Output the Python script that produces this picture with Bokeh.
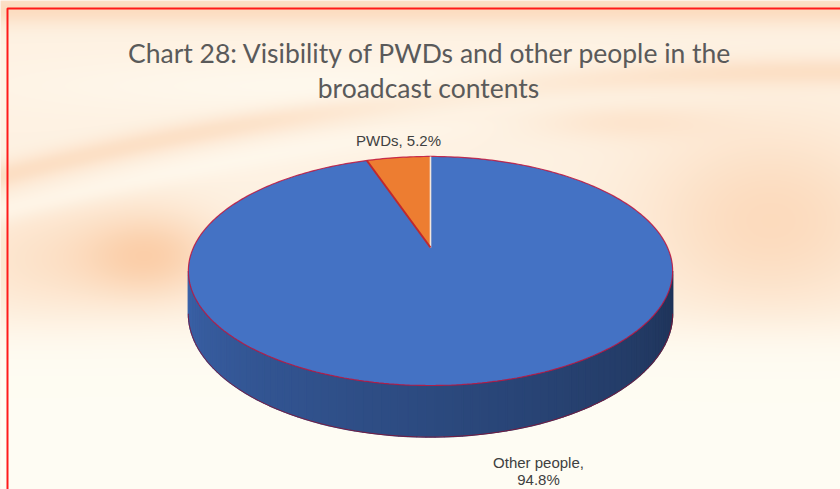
import numpy as np
from bokeh.plotting import figure
from bokeh.models import Range1d
from bokeh.embed import file_html
from bokeh.resources import INLINE
from bokeh.core.properties import value

# ---------------- data ----------------
categories = ["Other people", "PWDs"]
values = [94.8, 5.2]
slice_colors = ["#4472C4", "#ED7D31"]
title_lines = ["Chart 28: Visibility of PWDs and other people in the",
               "broadcast contents"]

# ---------------- layout ----------------
W, H = 840, 489
CX, CY = 430.0, 247.0      # pie centre on screen
RX, RY = 237.0, 109.7      # radii of top face
K = 0.205                  # perspective strength
DEPTH = 41.0               # thickness of the pie

p = figure(width=W, height=H, x_range=Range1d(0, W), y_range=Range1d(H, 0),
           output_backend="svg", toolbar_location=None, min_border=0)
p.axis.visible = False
p.grid.visible = False
p.outline_line_color = None
p.background_fill_color = "#fdf0e2"
p.border_fill_color = "#fdf0e2"

# ---------------- decorative background (soft swirl) ----------------
gx, gy = np.meshgrid(np.arange(W, dtype=float), np.arange(H, dtype=float))
base = np.array([254.0, 242.0, 227.0])
peach = np.array([251.0, 204.0, 165.0])
white = np.array([255.0, 253.0, 244.0])

def g(x0, y0, sx, sy):
    return np.exp(-(((gx - x0) / sx) ** 2 + ((gy - y0) / sy) ** 2))

yc = 175 - 0.25 * gx + 0.00015 * gx ** 2
wp = (0.55 * np.exp(-((gy - 8) / 16) ** 2)
      + 0.45 * np.exp(-((gy - yc) / 14) ** 2)
      + 0.85 * g(150, 255, 70, 45)
      + 0.35 * g(40, 260, 90, 60)
      + 0.60 * g(770, 220, 130, 95)
      + 0.30 * g(620, 120, 90, 18))
wp = np.clip(wp, 0, 1)
ww = (1 / (1 + np.exp(-(gy - 330) / 14))) * 0.95
ww = np.maximum(ww, 0.6 * g(330, 85, 300, 28))
left_fade = 1 / (1 + np.exp((gx - 430) / 60))
ww = np.maximum(ww, 0.5 * np.exp(-((gy - (yc + 35)) / 14) ** 2) * left_fade)
col = base * (1 - wp[..., None]) + peach * wp[..., None]
col = col * (1 - ww[..., None]) + white * ww[..., None]
col = np.clip(col, 0, 255).astype(np.uint32)
img = (255 << 24) | (col[..., 2] << 16) | (col[..., 1] << 8) | col[..., 0]
p.image_rgba(image=[img.astype(np.uint32)], x=0, y=0, dw=W, dh=H)

# ---------------- pie geometry ----------------
def proj(theta_deg, z=0.0):
    t = np.radians(np.asarray(theta_deg, float))
    u, v = np.sin(t), np.cos(t)
    s = 1.0 / (1.0 + K * v)
    return CX + RX * u * s, CY - RY * v * s + z * DEPTH * s


total = float(sum(values))
starts, ends = [], []
acc = 0.0
for v_ in values:
    starts.append(acc / total * 360.0)
    acc += v_
    ends.append(acc / total * 360.0)


def slice_of(theta):
    for i in range(len(values)):
        if starts[i] <= theta < ends[i]:
            return i
    return len(values) - 1


def shade(hexc, f):
    h = hexc.lstrip("#")
    r, g_, b = (int(h[i:i + 2], 16) for i in (0, 2, 4))
    return "#%02x%02x%02x" % (int(r * f), int(g_ * f), int(b * f))


# side wall (front, visible part)
a0 = np.degrees(np.arccos(-K))
a1 = 360 - a0
side_t = np.linspace(a0, a1, 90)
sxs, sys_, scol = [], [], []
for i in range(len(side_t) - 1):
    ta, tb = side_t[i], side_t[i + 1]
    xa, ya = proj(ta)
    xb, yb = proj(tb)
    xa2, ya2 = proj(ta, 1)
    xb2, yb2 = proj(tb, 1)
    sxs.append([xa, xb, xb2, xa2])
    sys_.append([ya, yb, yb2, ya2])
    frac = (a1 - 0.5 * (ta + tb)) / (a1 - a0)   # 0 at left, 1 at right
    f = 0.86 - 0.42 * frac
    scol.append(shade(slice_colors[slice_of(0.5 * (ta + tb))], f))
p.patches(sxs, sys_, fill_color=scol, line_color=scol, line_width=1.3)

# bottom edge of side wall
bt = np.linspace(a0, a1, 200)
bx, by = proj(bt, 1)
p.line(bx, by, line_color="#8a1030", line_width=1, line_alpha=0.8)

# top faces
for i in range(len(values)):
    ts = np.linspace(starts[i], ends[i], max(4, int(ends[i] - starts[i]) + 2))
    ax, ay = proj(ts)
    p.patch(np.r_[CX, ax], np.r_[CY, ay], fill_color=slice_colors[i],
            line_color=None)

# top face outline
ot = np.linspace(0, 360, 361)
ox, oy = proj(ot)
p.line(ox, oy, line_color="#c0143c", line_width=1.2, line_alpha=0.85)

# slice boundaries
for i in range(len(values)):
    ex, ey = proj(starts[i])
    if i == 0:
        p.line([CX, ex], [CY, ey], line_color="#f4e6dc", line_width=1.6)
    else:
        p.line([CX, ex], [CY, ey], line_color="#c0282d", line_width=2)

# ---------------- labels ----------------
lab_font = value("Liberation Sans")
p.text(x=[398], y=[140], text=[f"{categories[1]}, {values[1]}%"],
       text_font=lab_font, text_font_size="15px", text_color="#404040",
       text_align="center", text_baseline="alphabetic")
p.text(x=[538, 538], y=[462, 479],
       text=[f"{categories[0]},", f"{values[0]}%"],
       text_font=lab_font, text_font_size="15px", text_color="#404040",
       text_align="center", text_baseline="alphabetic")

# ---------------- title ----------------
p.text(x=[430, 428], y=[52, 87], text=title_lines,
       text_font=value("Lato"), text_font_size="26.5px", text_color="#5a5a5a",
       text_align="center", text_baseline="alphabetic")

# ---------------- frame ----------------
p.line([7, 7, 840], [489, 8, 8], line_color="#ff1a1a", line_width=2)

open("out.html", "w").write(file_html(p, INLINE))
